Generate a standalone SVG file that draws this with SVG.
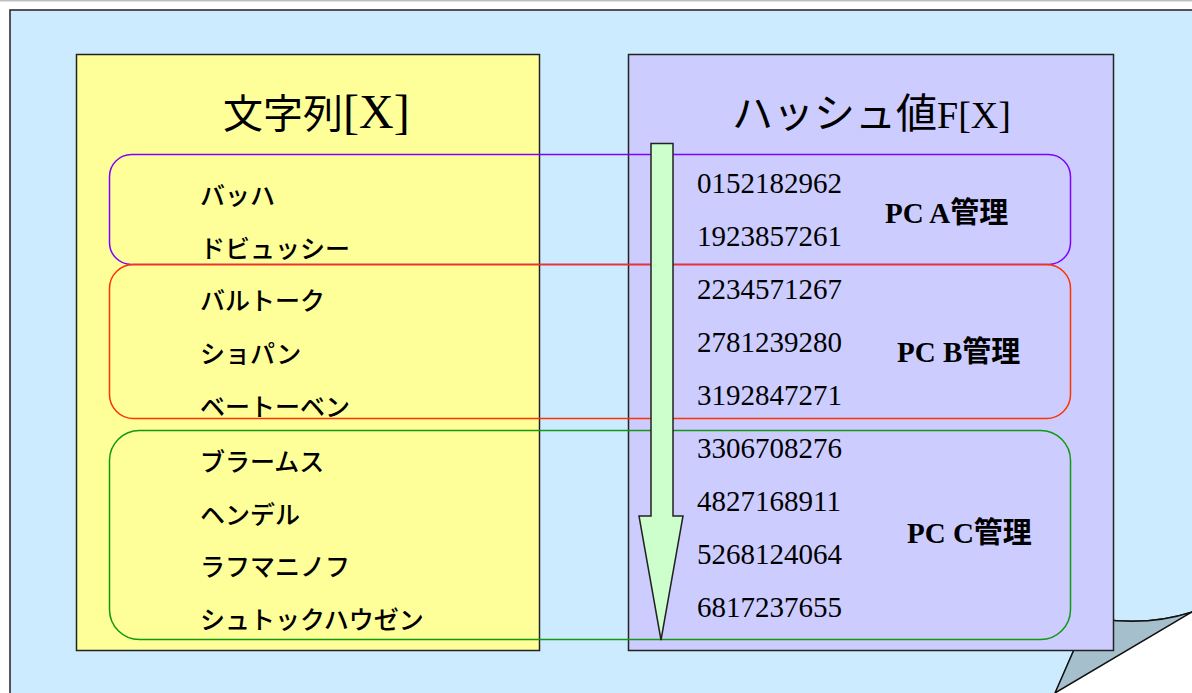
<svg xmlns="http://www.w3.org/2000/svg" width="1192" height="693" viewBox="0 0 1192 693">
<style>
.jp{font-family:"Noto Sans CJK JP","Noto Sans",sans-serif;font-size:25px;font-weight:500;fill:#000}
.num{font-family:"Liberation Serif",serif;font-size:29px;fill:#000}
.pc{font-family:"Liberation Serif","Noto Sans CJK JP",serif;font-size:29px;font-weight:bold;fill:#000}
.cj{font-family:"Noto Sans CJK JP",sans-serif}
.ttl{fill:#000}
.box{stroke:#222;stroke-width:1.5}
.grp{fill:none;stroke-width:1.5}
</style>
<rect x="0" y="0" width="1192" height="693" fill="#fff"/>
<line x1="0" y1="0.5" x2="1192" y2="0.5" stroke="#c0c0c0" stroke-width="2"/>
<g id="page">
<path d="M10,10 H1193 V612 Q1150,626 1100,619 L1087,620 L1055,694 L10,694 Z" fill="#CCEBFF" stroke="#222" stroke-width="1.5"/>
<path d="M1100,619 Q1150,626 1192,612 L1055,693 L1087,620 Z" fill="#A6BFCC" stroke="#111" stroke-width="1.5"/>
</g>
<g id="strings">
<rect class="box" x="76.5" y="54.5" width="463" height="596" fill="#FFFF99"/>
<text x="223" y="128" class="ttl"><tspan class="cj" font-size="40">文字列</tspan><tspan font-family="Liberation Serif,serif" font-size="48">[X]</tspan></text>
</g>
<g id="hashes">
<rect class="box" x="628.5" y="54.5" width="485" height="596" fill="#CCCCFF"/>
<text x="732" y="128" class="ttl"><tspan class="cj" font-size="41">ハッシュ値</tspan><tspan font-family="Liberation Serif,serif" font-size="38">F[X]</tspan></text>
</g>
<g id="pcA">
<rect class="grp" x="109.5" y="154.5" width="961" height="110" rx="22" stroke="#7F00FF"/>
<text class="pc" x="885" y="223">PC A<tspan class="cj">管理</tspan></text>
</g>
<g id="pcB">
<rect class="grp" x="109.5" y="264.5" width="961" height="154" rx="24" stroke="#FF3300"/>
<text class="pc" x="897" y="362">PC B<tspan class="cj">管理</tspan></text>
</g>
<g id="pcC">
<rect class="grp" x="109.5" y="430.5" width="961" height="209" rx="30" stroke="#119911"/>
<text class="pc" x="907" y="543">PC C<tspan class="cj">管理</tspan></text>
</g>
<g id="connectors">
<path d="M651,143.5 H673 V516 H683 L661,640 L639,516 H651 Z" fill="#CCFFCC" stroke="#222" stroke-width="1.5"/>
</g>
<g id="names" class="jp">
<text x="200" y="205">バッハ</text>
<text x="200" y="258">ドビュッシー</text>
<text x="200" y="310">バルトーク</text>
<text x="200" y="363">ショパン</text>
<text x="200" y="416">ベートーベン</text>
<text x="200" y="471">ブラームス</text>
<text x="200" y="524">ヘンデル</text>
<text x="200" y="576">ラフマニノフ</text>
<text x="200" y="629">シュトックハウゼン</text>
</g>
<g id="numbers" class="num">
<text x="697" y="193">0152182962</text>
<text x="697" y="246">1923857261</text>
<text x="697" y="299">2234571267</text>
<text x="697" y="352">2781239280</text>
<text x="697" y="405">3192847271</text>
<text x="697" y="458">3306708276</text>
<text x="697" y="511">4827168911</text>
<text x="697" y="564">5268124064</text>
<text x="697" y="617">6817237655</text>
</g>
</svg>
